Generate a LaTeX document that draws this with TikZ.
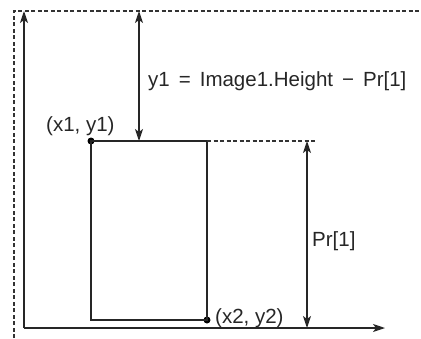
\documentclass[tikz,border=0pt]{standalone}
\usepackage{fontspec}
\setmainfont{Liberation Sans}
\usetikzlibrary{arrows.meta}
\begin{document}
\begin{tikzpicture}[x=1pt,y=-1pt,
  line/.style={line width=1.2pt, draw=black!85},
  tip/.style={-{Stealth[length=12pt,width=8pt,inset=3pt]}},
  dtip/.style={{Stealth[length=12pt,width=8pt,inset=3pt]}-{Stealth[length=12pt,width=8pt,inset=3pt]}},
  lbl/.style={font=\fontsize{20.5}{23}\selectfont, inner sep=0pt, text=black!85, anchor=base west},
  border/.style={line width=1.1pt, draw=black!80, dash pattern=on 4pt off 2.5pt},
  dotn/.style={circle, fill=black, inner sep=0pt, minimum size=7pt}]
\useasboundingbox (0,0) rectangle (421,338);
% geometry
\coordinate (bTL) at (14,11);
\coordinate (bR) at (421,11);
\coordinate (bB) at (14,338);
\coordinate (O) at (24,328);
\coordinate (Ytop) at (24,11);
\coordinate (Xend) at (385,328);
\coordinate (A1) at (139,11);
\coordinate (A2) at (139,141);
\coordinate (D1) at (207,141);
\coordinate (D2) at (317,141);
\coordinate (P1) at (307,141);
\coordinate (P2) at (307,328);
% border
\draw[border] (bB) -- (bTL) -- (bR);
% axes
\draw[line, tip] (O) -- (Ytop);
\draw[line, tip] (O) -- (Xend);
% rectangle
\node[dotn] (c1) at (91,141) {};
\node[dotn] (c2) at (207,320) {};
\draw[line] (c1.center) rectangle (c2.center);
% dimension arrows
\draw[line, dtip] (A1) -- (A2);
\draw[border] (D1) -- (D2);
\draw[line, dtip] (P1) -- (P2);
% labels
\node[lbl] (t1) at (148,86) {y1\hspace{9pt}=\hspace{9pt}Image1.Height\hspace{9pt}−\hspace{9pt}Pr[1]};
\node[lbl] (t2) at (46,131) {(x1, y1)};
\node[lbl] (t3) at (215,323) {(x2, y2)};
\node[lbl] (t4) at (312,246) {Pr[1]};
\end{tikzpicture}
\end{document}
